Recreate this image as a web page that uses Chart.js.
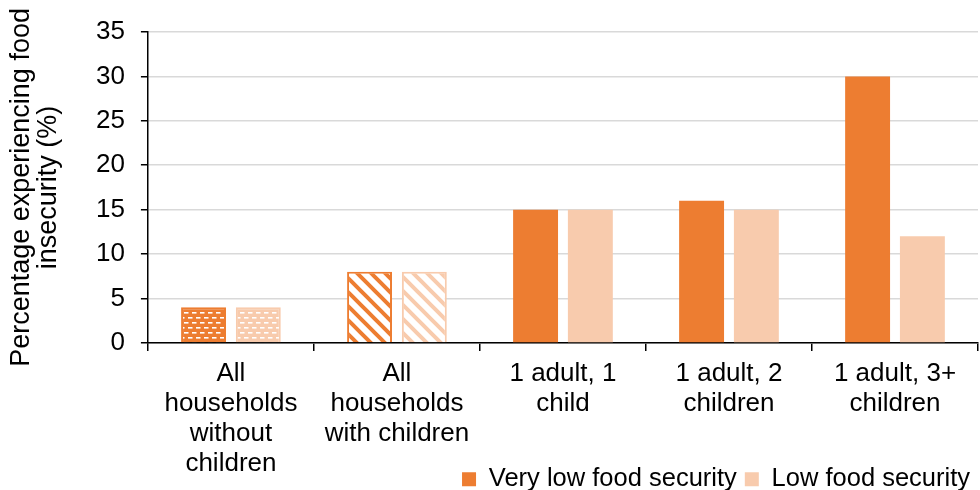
<!DOCTYPE html>
<html>
<head>
<meta charset="utf-8">
<script src="https://cdn.jsdelivr.net/npm/chart.js@4"></script>
<style>
  html, body { margin: 0; padding: 0; background: #fff; overflow: hidden; }
  #wrap { width: 980px; height: 490px; }
</style>
</head>
<body>
<div id="wrap"><canvas id="chart"></canvas></div>
<script>
const categories = [
  ['All', 'households', 'without', 'children'],
  ['All', 'households', 'with children'],
  ['1 adult, 1', 'child'],
  ['1 adult, 2', 'children'],
  ['1 adult, 3+', 'children']
];
const veryLow = [4, 8, 15, 16, 30];
const low = [4, 8, 15, 15, 12];
const yTicks = [0, 5, 10, 15, 20, 25, 30, 35];

const ORANGE = '#ED7D31';
const PEACH = '#F8CBAD';
const FONT = 'Liberation Sans, Arial, sans-serif';
const LABEL_OVERLAP = 28;

// rows of short white dashes, every other row shifted half a step
function dashPattern(color) {
  const c = document.createElement('canvas');
  c.width = 8; c.height = 10;
  const g = c.getContext('2d');
  g.fillStyle = color;
  g.fillRect(0, 0, 8, 10);
  g.fillStyle = '#fff';
  g.fillRect(0, 2, 4.5, 1.6);
  g.fillRect(4, 7, 4.5, 1.6);
  g.fillRect(-4, 7, 4.5, 1.6);
  return g.createPattern(c, 'repeat');
}

// white ground with thick "\" stripes
function stripePattern(color) {
  const s = 14;
  const c = document.createElement('canvas');
  c.width = s; c.height = s;
  const g = c.getContext('2d');
  g.fillStyle = '#fff';
  g.fillRect(0, 0, s, s);
  g.strokeStyle = color;
  g.lineWidth = 4;
  g.beginPath();
  g.moveTo(-s, 0); g.lineTo(s, 2 * s);
  g.moveTo(0, 0); g.lineTo(s, s);
  g.moveTo(0, -s); g.lineTo(2 * s, s);
  g.stroke();
  return g.createPattern(c, 'repeat');
}

function fills(color) {
  return [dashPattern(color), stripePattern(color), color, color, color];
}
const borderWidths = [2, 2, 0, 0, 0];

// the long first category label runs down beside the legend,
// so let the x axis box reach further than its fitted height
const labelRoom = {
  id: 'labelRoom',
  afterLayout(chart) {
    chart.scales.x.bottom += LABEL_OVERLAP;
  }
};

const ctx = document.getElementById('chart').getContext('2d');
new Chart(ctx, {
  type: 'bar',
  plugins: [labelRoom],
  data: {
    labels: categories,
    datasets: [
      {
        label: 'Very low food security',
        data: veryLow,
        backgroundColor: fills(ORANGE),
        borderColor: ORANGE,
        borderWidth: borderWidths,
        barPercentage: 0.82,
        categoryPercentage: 0.66
      },
      {
        label: 'Low food security',
        data: low,
        backgroundColor: fills(PEACH),
        borderColor: PEACH,
        borderWidth: borderWidths,
        barPercentage: 0.82,
        categoryPercentage: 0.66
      }
    ]
  },
  options: {
    responsive: true,
    maintainAspectRatio: false,
    animation: false,
    layout: { padding: { left: 8, right: 2, top: 32, bottom: -12 } },
    scales: {
      x: {
        offset: true,
        afterFit: scale => { scale.height -= LABEL_OVERLAP; },
        grid: {
          offset: true,
          drawOnChartArea: false,
          drawTicks: true,
          tickLength: 8,
          color: '#000',
          lineWidth: 1.5
        },
        border: { color: '#000', width: 1.5 },
        ticks: {
          color: '#000',
          font: { family: FONT, size: 26, lineHeight: 1.15 },
          maxRotation: 0,
          autoSkip: false,
          padding: 8
        }
      },
      y: {
        min: 0,
        max: 35,
        afterBuildTicks: axis => { axis.ticks = yTicks.map(v => ({ value: v })); },
        grid: {
          color: '#d9d9d9',
          lineWidth: 1.5,
          tickColor: '#000',
          tickLength: 7
        },
        border: { color: '#000', width: 1.5 },
        ticks: {
          color: '#000',
          font: { family: FONT, size: 26 },
          padding: 16
        },
        title: {
          display: true,
          text: ['Percentage experiencing food', 'insecurity (%)'],
          color: '#000',
          font: { family: FONT, size: 27, lineHeight: 1.0 },
          padding: { top: 0, bottom: 18 }
        }
      }
    },
    plugins: {
      legend: {
        display: true,
        position: 'bottom',
        align: 'end',
        labels: {
          color: '#000',
          font: { family: FONT, size: 25.5 },
          boxWidth: 14,
          boxHeight: 14,
          padding: 8,
          generateLabels: chart => chart.data.datasets.map((ds, i) => ({
            text: ds.label,
            fillStyle: ds.borderColor,
            strokeStyle: ds.borderColor,
            lineWidth: 0,
            hidden: false,
            datasetIndex: i
          }))
        }
      },
      tooltip: { enabled: false }
    }
  }
});
</script>
</body>
</html>
